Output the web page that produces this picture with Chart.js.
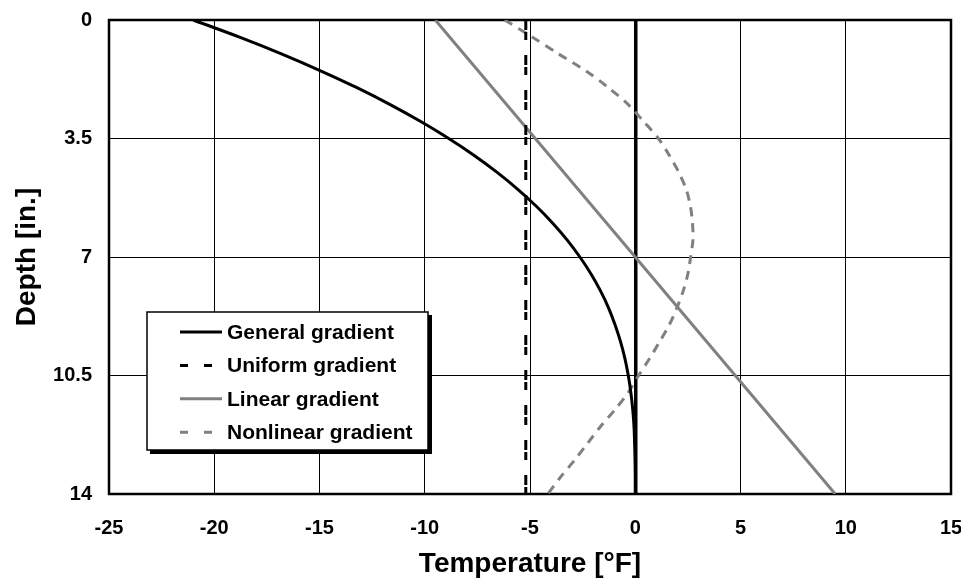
<!DOCTYPE html>
<html><head><meta charset="utf-8">
<script src="https://cdn.jsdelivr.net/npm/chart.js@4/dist/chart.umd.min.js"></script>
<style>html,body{margin:0;padding:0;background:#fff}#wrap{width:961px;height:581px}</style>
</head><body><div id="wrap"><canvas id="c" width="961" height="581"></canvas></div>
<script>
// Depth [in.] sample points
const depth = [0,0.5,1,1.5,2,2.5,3,3.5,4,4.5,5,5.5,6,6.5,7,7.5,8,8.5,9,9.5,10,10.5,11,11.5,12,12.5,13,13.5,14];
// Temperature [°F] values
const generalGradient = [-21,-18.83,-16.81,-14.95,-13.22,-11.64,-10.19,-8.86,-7.65,-6.56,-5.58,-4.70,-3.92,-3.23,-2.63,-2.10,-1.65,-1.27,-0.96,-0.70,-0.49,-0.33,-0.21,-0.12,-0.06,-0.03,-0.01,0,0];
const nonlinearGradient = [-6.2,-4.9,-3.65,-2.35,-1.27,-0.33,0.4,1.1,1.62,2.07,2.42,2.62,2.72,2.74,2.63,2.5,2.28,1.98,1.62,1.16,0.68,0.16,-0.33,-0.95,-1.64,-2.26,-2.88,-3.55,-4.15];
const endDepth = [0,14];
const uniformGradient = [-5.2,-5.2];
const linearGradient = [-9.5,9.5];
// Tick labels
const xTicks = [-25,-20,-15,-10,-5,0,5,10,15];
const yTicks = [0,3.5,7,10.5,14];
const seriesLabels = ['General gradient','Uniform gradient','Linear gradient','Nonlinear gradient'];

const FONT = '"Liberation Sans", Arial, sans-serif';
const pts = (xs, ys) => xs.map((v,i)=>({x:v,y:ys[i]}));

const framePlugin = {
  id:'frame',
  beforeDatasetsDraw(chart){
    const {ctx, chartArea:a} = chart;
    ctx.save();
    ctx.lineWidth = 2.5; ctx.strokeStyle = '#000';
    ctx.strokeRect(a.left, a.top, a.right-a.left, a.bottom-a.top);
    ctx.restore();
  }
};

const legendPlugin = {
  id:'boxLegend',
  afterDraw(chart){
    const ctx = chart.ctx;
    const x0=147, y0=312, w=281, h=138;
    ctx.save();
    ctx.fillStyle='#000'; ctx.fillRect(x0+3,y0+3,w+1,h+1);
    ctx.fillStyle='#fff'; ctx.fillRect(x0,y0,w,h);
    ctx.lineWidth=1.5; ctx.strokeStyle='#000'; ctx.strokeRect(x0,y0,w,h);
    chart.data.datasets.forEach((ds,i)=>{
      const y = 332 + i*33.4;
      ctx.beginPath();
      ctx.setLineDash(ds.legendDash||[]);
      ctx.lineWidth = ds.borderWidth; ctx.strokeStyle = ds.borderColor; ctx.lineCap='butt';
      ctx.moveTo(180,y); ctx.lineTo(222,y); ctx.stroke();
      ctx.setLineDash([]);
      ctx.fillStyle='#000'; ctx.font='bold 21px '+FONT; ctx.textBaseline='middle'; ctx.textAlign='left';
      ctx.fillText(ds.label,227,y+1);
    });
    ctx.restore();
  }
};

new Chart(document.getElementById('c'), {
  type:'scatter',
  data:{datasets:[
    {label:seriesLabels[0], data:pts(generalGradient,depth), showLine:true, borderColor:'#000', borderWidth:3, pointRadius:0, tension:0.3, legendDash:[]},
    {label:seriesLabels[1], data:pts(uniformGradient,endDepth), showLine:true, borderColor:'#000', borderWidth:3, pointRadius:0, borderDash:[10,2,8,15], legendDash:[8,16]},
    {label:seriesLabels[2], data:pts(linearGradient,endDepth), showLine:true, borderColor:'#808080', borderWidth:3, pointRadius:0, legendDash:[]},
    {label:seriesLabels[3], data:pts(nonlinearGradient,depth), showLine:true, borderColor:'#808080', borderWidth:3, pointRadius:0, tension:0.3, borderDash:[9,7], legendDash:[8,16]}
  ]},
  options:{
    responsive:false, animation:false,
    layout:{padding:{top:20,right:10,left:0,bottom:0}},
    plugins:{legend:{display:false}, tooltip:{enabled:false}},
    scales:{
      x:{type:'linear', min:-25, max:15,
        afterBuildTicks(s){ s.ticks = xTicks.map(v=>({value:v})); },
        afterFit(s){ s.height = 87; s.paddingLeft = 0; s.paddingRight = 0; },
        grid:{color:'#000', lineWidth:c=>c.tick && c.tick.value===0 ? 3.5 : 1, drawTicks:false},
        border:{display:false},
        ticks:{padding:22, color:'#000', font:{family:FONT, size:20, weight:'bold'}, maxRotation:0, callback:v=>String(v)},
        title:{display:true, text:'Temperature [°F]', color:'#000', font:{family:FONT, size:28, weight:'bold'}, padding:{top:0,bottom:0}}
      },
      y:{type:'linear', min:0, max:14, reverse:true,
        afterBuildTicks(s){ s.ticks = yTicks.map(v=>({value:v})); },
        afterFit(s){ s.width = 109; s.paddingTop = 0; s.paddingBottom = 0; },
        grid:{color:'#000', lineWidth:1, drawTicks:false},
        border:{display:false},
        ticks:{padding:17, color:'#000', font:{family:FONT, size:20, weight:'bold'}, callback:v=>String(v)},
        title:{display:true, text:'Depth [in.]', color:'#000', font:{family:FONT, size:28, weight:'bold'}, padding:{top:10,bottom:0}}
      }
    }
  },
  plugins:[framePlugin, legendPlugin]
});
</script></body></html>
